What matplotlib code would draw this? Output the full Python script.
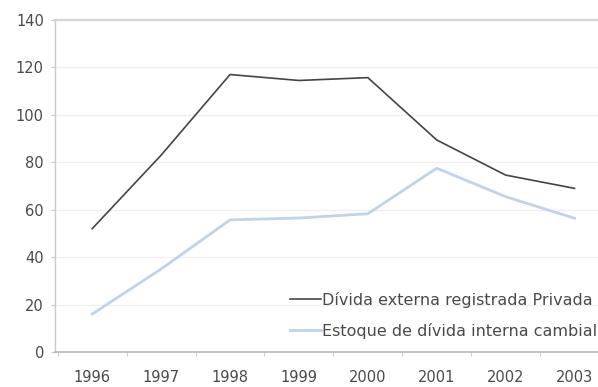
import numpy as np
import matplotlib
matplotlib.use("Agg")
import matplotlib.pyplot as plt

years = ['1996', '1997', '1998', '1999', '2000', '2001', '2002', '2003']
divida_externa = [52, 83, 117, 114.5, 115.7, 89.4, 74.6, 69]
estoque_interna = [16, 35, 55.7, 56.5, 58.3, 77.5, 65.5, 56.4]

plt.rcParams['font.family'] = ['DejaVu Sans']

fig = plt.figure(figsize=(5.98, 3.87), dpi=100)
W, H = 598, 387
ax = fig.add_axes([55 / W, 1 - 352 / H, (609 - 55) / W, (352 - 20) / H])

x = np.arange(len(years))
ax.plot(x, divida_externa, color='#454545', lw=1.2, label='Dívida externa registrada Privada')
ax.plot(x, estoque_interna, color='#c2d2ec', lw=2.0, label='Estoque de dívida interna cambial')

ax.set_xlim(-0.54, 7.5)
ax.set_ylim(0, 140)
ax.set_yticks(np.arange(0, 141, 20))
ax.set_xticks(x)
ax.set_xticklabels(years)
ax.set_xticks(np.arange(-0.5, 8, 1), minor=True)

# lineas de la cuadricula, muy claras
for y in range(20, 140, 20):
    ax.axhline(y, color='#f0f0f0', lw=1.0, zorder=0)

ax.spines['right'].set_visible(False)
ax.spines['top'].set_color('#d4d4d4')
ax.spines['top'].set_linewidth(1.6)
ax.spines['left'].set_color('#c8c8c8')
ax.spines['bottom'].set_color('#b8b8b8')
ax.spines['left'].set_linewidth(1.0)
ax.spines['bottom'].set_linewidth(1.2)

ax.tick_params(axis='y', length=3, color='#c8c8c8', labelcolor='#4a4a4a', labelsize=10.5, pad=5)
ax.tick_params(axis='x', which='major', length=0, labelcolor='#4a4a4a', labelsize=10.5, pad=13)
ax.tick_params(axis='x', which='minor', length=3, color='#c8c8c8')

ax.legend(loc='center left', bbox_to_anchor=(290 / W, 1 - 315.5 / H), bbox_transform=fig.transFigure,
          frameon=False, fontsize=11.5, handlelength=1.95, handletextpad=0.05, borderpad=0,
          borderaxespad=0, labelspacing=0.95, labelcolor='#4a4a4a')

fig.savefig('out.png', dpi=100)
